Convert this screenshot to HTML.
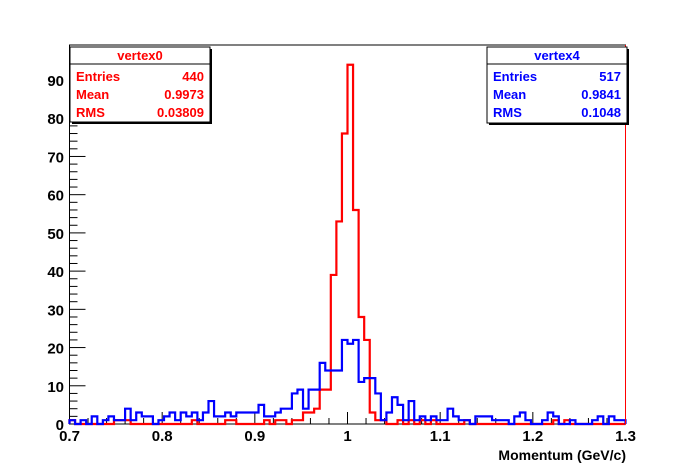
<!DOCTYPE html>
<html><head><meta charset="utf-8"><style>
html,body{margin:0;padding:0;background:#fff;}
svg{display:block;font-family:"Liberation Sans",Arial,sans-serif;}
</style></head><body>
<svg id="chart" width="696" height="472" viewBox="0 0 696 472" xmlns="http://www.w3.org/2000/svg">
<rect x="0" y="0" width="696" height="472" fill="#fff"/>
<g id="axes"></g>
<g id="series"></g>
<text x="626" y="460" text-anchor="end" font-size="14" font-weight="bold">Momentum (GeV/c)</text>
<g>
<rect x="72" y="49" width="140" height="75" fill="#000"/>
<rect x="70" y="47" width="140" height="75" fill="#fff" stroke="#000" stroke-width="1"/>
<line x1="70" y1="64" x2="210" y2="64" stroke="#000"/>
<text x="140" y="60" text-anchor="middle" font-size="13" font-weight="bold" fill="#f00">vertex0</text>
<text x="76" y="81" font-size="13" font-weight="bold" fill="#f00">Entries</text><text x="204" y="81" text-anchor="end" font-size="13" font-weight="bold" fill="#f00">440</text>
<text x="76" y="99" font-size="13" font-weight="bold" fill="#f00">Mean</text><text x="204" y="99" text-anchor="end" font-size="13" font-weight="bold" fill="#f00">0.9973</text>
<text x="76" y="117" font-size="13" font-weight="bold" fill="#f00">RMS</text><text x="204" y="117" text-anchor="end" font-size="13" font-weight="bold" fill="#f00">0.03809</text>
</g>
<g>
<rect x="489" y="49" width="140" height="76" fill="#000"/>
<rect x="487" y="47" width="140" height="76" fill="#fff" stroke="#000" stroke-width="1"/>
<line x1="487" y1="64" x2="627" y2="64" stroke="#000"/>
<text x="557" y="60" text-anchor="middle" font-size="13" font-weight="bold" fill="#00f">vertex4</text>
<text x="493" y="81" font-size="13" font-weight="bold" fill="#00f">Entries</text><text x="621" y="81" text-anchor="end" font-size="13" font-weight="bold" fill="#00f">517</text>
<text x="493" y="99" font-size="13" font-weight="bold" fill="#00f">Mean</text><text x="621" y="99" text-anchor="end" font-size="13" font-weight="bold" fill="#00f">0.9841</text>
<text x="493" y="117" font-size="13" font-weight="bold" fill="#00f">RMS</text><text x="621" y="117" text-anchor="end" font-size="13" font-weight="bold" fill="#00f">0.1048</text>
</g>
</svg>
<script>
const xMin = 0.7, xMax = 1.3, nBins = 100;
const xTicks = ["0.7","0.8","0.9","1","1.1","1.2","1.3"];
const yTicks = ["0","10","20","30","40","50","60","70","80","90"];
const redCounts = [1,0,0,0,0,0,0,0,1,1, 1,0,0,0,0,0,0,0,0,0, 0,0,1,0,0,0,0,0,1,1, 0,0,0,0,0,1,0,1,1,0, 1,1,3,3,4,9,9,39,53,76, 94,56,28,22,3,1,1,0,0,1, 0,1,0,1,0,1,0,0,0,0, 0,1,0,0,0,0,0,0,0,0, 0,0,0,0,0,0,0,1,0,1, 0,0,0,0,0,0,0,0,0,0];
const blueCounts = [1,0,1,0,2,0,1,2,1,1, 4,1,3,2,2,0,1,2,3,1, 3,2,3,1,3,6,2,2,3,2, 3,3,3,3,5,2,2,3,4,4, 8,9,4,9,9,16,14,14,14,22, 21,22,11,12,12,8,1,3,7,5, 1,6,1,2,1,2,1,1,4,2, 1,1,0,2,2,2,1,1,1,0, 2,3,1,0,0,1,3,2,0,0, 1,0,0,0,1,2,0,2,1,1];

const X0 = 69.5, X1 = 625.5, Y0 = 424, Y1 = 45;
function xs(v){ return X0 + (v - xMin) / (xMax - xMin) * (X1 - X0); }
function ys(c){ return Y0 - c * 3.822; }
const NS = "http://www.w3.org/2000/svg";
function mk(tag, attrs, parent){ const e = document.createElementNS(NS, tag); for (const k in attrs) e.setAttribute(k, attrs[k]); parent.appendChild(e); return e; }

const axes = document.getElementById('axes');
const series = document.getElementById('series');
const frame = mk('rect', {x:X0, y:Y1, width:X1-X0, height:Y0-Y1, fill:'none', stroke:'#000', 'stroke-width':1}, axes);



// x ticks
const bw = (xMax - xMin) / nBins;
for (let i = 0; i <= 30; i++) {
  const v = xMin + i * 0.02;
  const x = xs(v);
  const major = i % 5 === 0;
  const t = mk('line', {x1:x, y1:Y0, x2:x, y2:Y0 - (major ? 12 : 6), stroke:'#000', 'stroke-width':1}, axes);
  
  
}
xTicks.forEach((lab, i) => {
  const t = mk('text', {x:xs(xMin + i * 0.1), y:441, 'text-anchor':'middle', 'font-size':15, 'font-weight':'bold'}, axes);
  t.textContent = lab;
  
  
});
// y ticks
for (let c = 0; c <= 98; c += 2) {
  const y = ys(c);
  if (y < Y1) break;
  const major = c % 10 === 0;
  const t = mk('line', {x1:X0, y1:y, x2:X0 + (major ? 16 : 8), y2:y, stroke:'#000', 'stroke-width':1}, axes);
  
  
}
yTicks.forEach((lab, i) => {
  const t = mk('text', {x:64, y:ys(i * 10) + 6, 'text-anchor':'end', 'font-size':15, 'font-weight':'bold'}, axes);
  t.textContent = lab;
  
  
});

function stepPath(arr){
  let d = 'M' + xs(xMin) + ',' + ys(0);
  arr.forEach((c, i) => {
    const xa = xs(xMin + i * bw), xb = xs(xMin + (i + 1) * bw);
    d += ' L' + xa + ',' + ys(c) + ' L' + xb + ',' + ys(c);
  });
  d += ' L' + xs(xMax) + ',' + ys(0);
  return d;
}
const redPath = mk('path', {d:stepPath(redCounts), fill:'none', stroke:'#f00', 'stroke-width':2.2}, series);


const bluePath = mk('path', {d:stepPath(blueCounts), fill:'none', stroke:'#00f', 'stroke-width':2.2}, series);


const rEdge = mk('line', {x1:X1, y1:Y1, x2:X1, y2:Y0, stroke:'#f00', 'stroke-width':1}, series);


</script>
</body></html>
